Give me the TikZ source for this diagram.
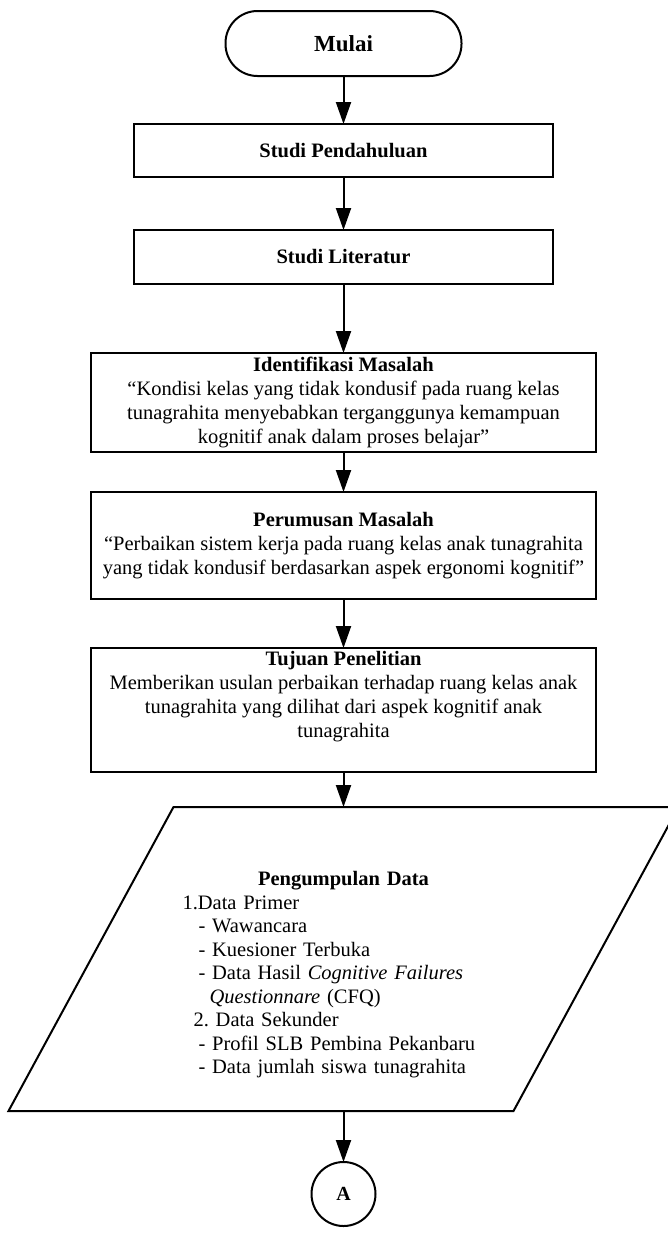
\documentclass[tikz,border=0pt]{standalone}
\usepackage{fontspec}
\setmainfont{Liberation Serif}
\usetikzlibrary{arrows.meta,positioning,calc}
\tikzset{
  blk/.style={draw, rectangle, line width=2pt, outer sep=0pt, minimum width=419pt, align=center, inner sep=0pt, font=\fontsize{20.5}{24}\selectfont},
  wblk/.style={blk, minimum width=505pt},
  term/.style={draw, rectangle, rounded corners=32pt, line width=2pt, outer sep=0pt, minimum width=236pt, minimum height=65pt, inner sep=0pt, font=\fontsize{23}{27}\selectfont\bfseries},
  conn/.style={draw, circle, line width=2pt, outer sep=0pt, minimum size=64pt, inner sep=0pt, font=\fontsize{20}{22}\selectfont\bfseries},
  para/.style={rectangle, minimum width=670pt, minimum height=304pt, inner sep=0pt, outer sep=0pt},
  arr/.style={-{Triangle[length=22pt,width=15pt]}, line width=2pt},
}

\begin{document}
\begin{tikzpicture}
\useasboundingbox (0,0) rectangle (668pt,-1245pt);

\node[term] (mulai) at (343.5pt,-43.5pt) {Mulai};

\node[blk, minimum height=53pt, below=48pt of mulai] (studi) {\bfseries Studi Pendahuluan};
\node[blk, minimum height=54pt, below=53pt of studi] (literatur) {\bfseries Studi Literatur};

\node[wblk, minimum height=99pt, below=69pt of literatur] (identifikasi)
  {\textbf{Identifikasi Masalah}\\
   “Kondisi kelas yang tidak kondusif pada ruang kelas\\
   tunagrahita menyebabkan terganggunya kemampuan\\
   kognitif anak dalam proses belajar”};

\node[wblk, minimum height=107pt, below=40pt of identifikasi] (rumusan)
  {\textbf{Perumusan Masalah}\\
   “Perbaikan sistem kerja pada ruang kelas anak tunagrahita\\
   yang tidak kondusif berdasarkan aspek ergonomi kognitif”};

\node[wblk, minimum height=124pt, below=49pt of rumusan] (tujuan)
  {\textbf{Tujuan Penelitian}\\
   Memberikan usulan perbaikan terhadap ruang kelas anak\\
   tunagrahita yang dilihat dari aspek kognitif anak\\
   tunagrahita\\ \strut};

% parallelogram for the data input
\node[para, below=35pt of tujuan] (kumpul) {};
\draw[line width=2pt] ($(kumpul.north west)+(165pt,0)$) -- (kumpul.north east)
  -- ($(kumpul.south east)+(-165pt,0)$) -- (kumpul.south west) -- cycle;
\node[align=left, text width=322pt, inner sep=0pt, font=\fontsize{20.5}{23.5}\selectfont]
  (kumpultxt) at ([yshift=-16pt]kumpul.center)
  {\makebox[322pt][c]{\bfseries Pengumpulan Data}\\
   1.Data Primer\\
   \hspace*{16pt}- Wawancara\\
   \hspace*{16pt}- Kuesioner Terbuka\\
   \hspace*{16pt}- Data Hasil \textit{Cognitive Failures}\\
   \hspace*{27pt}\textit{Questionnare} (CFQ)\\
   \hspace*{11pt}2.\ Data Sekunder\\
   \hspace*{16pt}- Profil SLB Pembina Pekanbaru\\
   \hspace*{16pt}- Data jumlah siswa tunagrahita};

\node[conn, below=51pt of kumpul] (konA) {A};

\draw[arr] (mulai) -- (studi);
\draw[arr] (studi) -- (literatur);
\draw[arr] (literatur) -- (identifikasi);
\draw[arr] (identifikasi) -- (rumusan);
\draw[arr] (rumusan) -- (tujuan);
\draw[arr] (tujuan) -- (kumpul);
\draw[arr] (kumpul) -- (konA);

\end{tikzpicture}
\end{document}
